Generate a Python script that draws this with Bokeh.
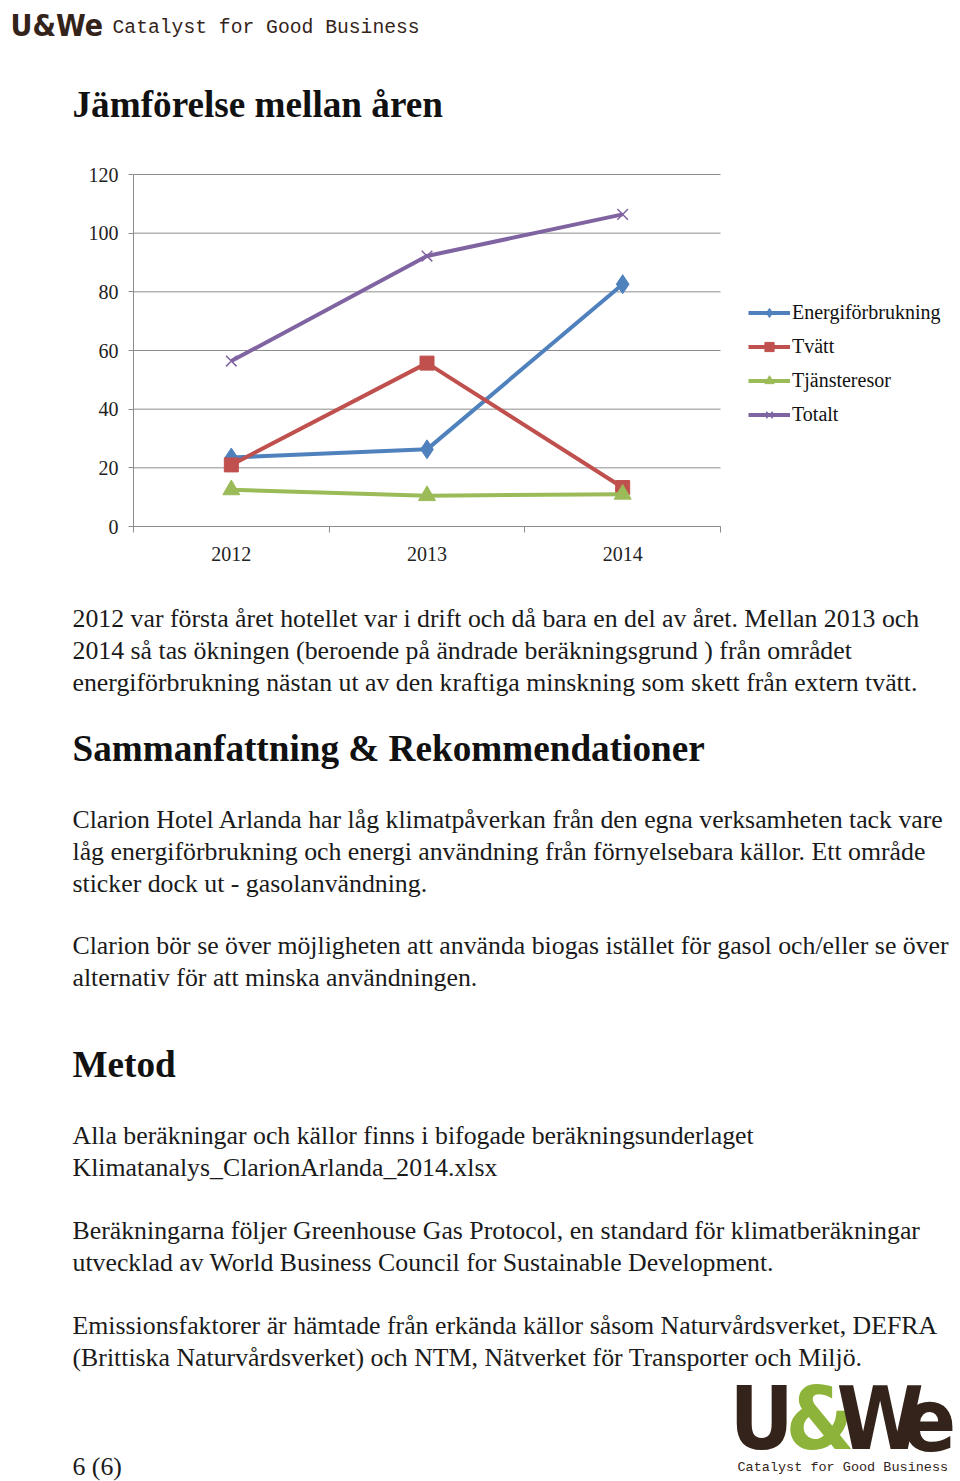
from bokeh.plotting import figure
from bokeh.models import Range1d, FixedTicker, Legend, LegendItem, LinearAxis
from bokeh.core.properties import value
from bokeh.embed import file_html
from bokeh.resources import INLINE

# ---------------- data ----------------
years = ["2012", "2013", "2014"]
energi = [23.5, 26.3, 82.6]
tvatt = [21.0, 55.7, 13.3]
tjanst = [12.5, 10.5, 11.0]
totalt = [56.4, 92.2, 106.4]
y_ticks = [0, 20, 40, 60, 80, 100, 120]

series_names = ["Energiförbrukning", "Tvätt", "Tjänsteresor", "Totalt"]
series_colors = ["#4F81BD", "#C0504D", "#9BBB59", "#8064A2"]
series_markers = ["diamond", "square", "triangle", "x"]

title_text = "Jämförelse mellan åren"
para1 = [
    "2012 var första året hotellet var i drift och då bara en del av året. Mellan 2013 och",
    "2014 så tas ökningen (beroende på ändrade beräkningsgrund ) från området",
    "energiförbrukning nästan ut av den kraftiga minskning som skett från extern tvätt.",
]
heading2 = "Sammanfattning & Rekommendationer"
para2 = [
    "Clarion Hotel Arlanda har låg klimatpåverkan från den egna verksamheten tack vare",
    "låg energiförbrukning och energi användning från förnyelsebara källor. Ett område",
    "sticker dock ut - gasolanvändning.",
]
para3 = [
    "Clarion bör se över möjligheten att använda biogas istället för gasol och/eller se över",
    "alternativ för att minska användningen.",
]
heading3 = "Metod"
para4 = [
    "Alla beräkningar och källor finns i bifogade beräkningsunderlaget",
    "Klimatanalys_ClarionArlanda_2014.xlsx",
]
para5 = [
    "Beräkningarna följer Greenhouse Gas Protocol, en standard för klimatberäkningar",
    "utvecklad av World Business Council for Sustainable Development.",
]
para6 = [
    "Emissionsfaktorer är hämtade från erkända källor såsom Naturvårdsverket, DEFRA",
    "(Brittiska Naturvårdsverket) och NTM, Nätverket för Transporter och Miljö.",
]
page_no = "6 (6)"
brand = "U&We"
tagline = "Catalyst for Good Business"

# ---------------- style ----------------
WID, H = 960, 1481
FL, FR, FT, FB = 133, 720, 174, 526   # plot area edges on the page (px)
SERIF = "Liberation Serif"
NARROW = "Liberation Sans Narrow, DejaVu Sans Condensed, Arial Narrow, sans-serif"
MONO = "Liberation Mono"
BROWN = "#34231a"
GREEN = "#8db33a"
TXT = "#1a1a1a"
GRID = "#8c8c8c"
BODY_SIZE = "25.8px"
HEAD_SIZE = "37.2px"
TICK_SIZE = "20px"

xs = [i + 0.5 for i in range(len(years))]
xmin, xmax = 0, len(years)
ymin, ymax = y_ticks[0], y_ticks[-1]
ppx = (FR - FL) / (xmax - xmin)
ppy = (FB - FT) / (ymax - ymin)

p = figure(width=WID, height=H,
           x_range=Range1d(xmin - FL / ppx, xmax + (WID - FR) / ppx),
           y_range=Range1d(ymin - (H - FB) / ppy, ymax + FT / ppy),
           x_axis_type=None, y_axis_type=None,
           output_backend="svg", toolbar_location=None,
           min_border=0, min_border_left=0, min_border_right=0,
           min_border_top=0, min_border_bottom=0)
p.outline_line_color = None
p.background_fill_color = "white"
p.border_fill_color = "white"
p.extra_x_ranges = {"page": Range1d(0, WID)}
p.extra_y_ranges = {"page": Range1d(H, 0)}

# ---------------- chart ----------------
p.segment(x0=[xmin] * len(y_ticks), x1=[xmax] * len(y_ticks), y0=y_ticks, y1=y_ticks,
          line_color=GRID, line_width=1)

yax = LinearAxis(fixed_location=xmin, bounds=(ymin, ymax), ticker=FixedTicker(ticks=y_ticks))
yax.axis_line_color = GRID
yax.major_tick_line_color = GRID
yax.major_tick_out = 5
yax.major_tick_in = 0
yax.minor_tick_line_color = None
yax.major_label_standoff = 10
yax.major_label_text_font = SERIF
yax.major_label_text_font_size = TICK_SIZE
yax.major_label_text_color = "#222222"
p.add_layout(yax, "left")

xax = LinearAxis(fixed_location=ymin, bounds=(xmin, xmax),
                 ticker=FixedTicker(ticks=xs, minor_ticks=list(range(len(years) + 1))))
xax.major_label_overrides = {x: y for x, y in zip(xs, years)}
xax.axis_line_color = GRID
xax.major_tick_line_color = None
xax.major_tick_out = 0
xax.major_tick_in = 0
xax.minor_tick_line_color = GRID
xax.minor_tick_out = 6
xax.minor_tick_in = 0
xax.major_label_standoff = 14
xax.major_label_text_font = SERIF
xax.major_label_text_font_size = TICK_SIZE
xax.major_label_text_color = "#222222"
p.add_layout(xax, "below")

marker_sizes = {"diamond": 19, "square": 14, "triangle": 17, "x": 15}
items = []
for name, vals, col, mk in zip(series_names, [energi, tvatt, tjanst, totalt], series_colors, series_markers):
    ln = p.line(xs, vals, line_color=col, line_width=4)
    if mk == "x":
        sc = p.scatter(xs, vals, marker=mk, size=marker_sizes[mk], line_color=col, line_width=1.5)
    else:
        sc = p.scatter(xs, vals, marker=mk, size=marker_sizes[mk], fill_color=col, line_color=col)
    items.append(LegendItem(label=name, renderers=[ln, sc]))

legend = Legend(items=items, location=(748, H - 425.5), orientation="vertical",
                glyph_width=42, glyph_height=23, spacing=11, label_standoff=2,
                padding=0, margin=0, border_line_color=None, background_fill_alpha=0,
                label_text_font=SERIF, label_text_font_size=TICK_SIZE,
                label_text_color="#111111", label_height=23)
p.add_layout(legend, "center")


# ---------------- page text ----------------
def write_lines(lines, x, y_first, step, size=BODY_SIZE, bold=False, color=TXT, font=SERIF):
    ys = [y_first + i * step for i in range(len(lines))]
    p.text(x=[x] * len(lines), y=ys, text=lines, text_font=value(font),
           text_font_size=size, text_font_style="bold" if bold else "normal",
           text_color=color, text_baseline="middle", text_align="left",
           x_range_name="page", y_range_name="page")


def word(t, x, y, size, color, font=NARROW, bold=True):
    p.text(x=[x], y=[y], text=[t], text_font=value(font), text_font_size=size,
           text_font_style="bold" if bold else "normal", text_color=color,
           text_baseline="middle", text_align="left",
           x_range_name="page", y_range_name="page")


word(brand, 10, 25, "30px", BROWN)
word(tagline, 112, 27, "19.7px", BROWN, font=MONO, bold=False)
write_lines([title_text], 72, 104, 0, size=HEAD_SIZE, bold=True, color="#111111")

write_lines(para1, 72, 618, 32)
write_lines([heading2], 72, 748, 0, size=HEAD_SIZE, bold=True, color="#111111")
write_lines(para2, 72, 819, 32)
write_lines(para3, 72, 945, 32)
write_lines([heading3], 72, 1064, 0, size=HEAD_SIZE, bold=True, color="#111111")
write_lines(para4, 72, 1135, 32)
write_lines(para5, 72, 1230, 32)
write_lines(para6, 72, 1325, 32)
write_lines([page_no], 72, 1466, 0)

# big logo
word("U", 729, 1418, "88px", BROWN)
word("&", 785, 1418, "88px", GREEN)
word("W", 836, 1418, "88px", BROWN)
word("e", 902, 1418, "88px", BROWN)
word(tagline, 737, 1467, "13.5px", BROWN, font=MONO, bold=False)

open("out.html", "w").write(file_html(p, INLINE))
